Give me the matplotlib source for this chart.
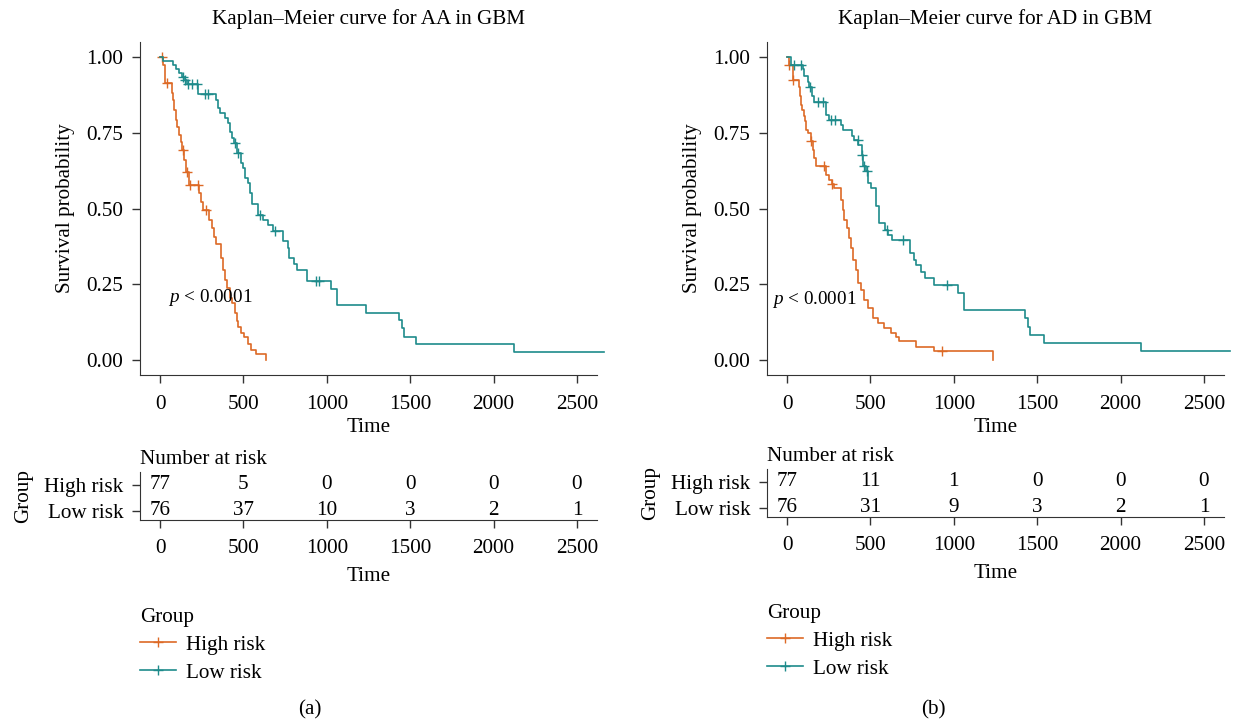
import numpy as np
import matplotlib
matplotlib.use("Agg")
import matplotlib.pyplot as plt
from matplotlib.lines import Line2D
from matplotlib.ticker import FormatStrFormatter

plt.rcParams['font.family'] = ['Liberation Serif', 'DejaVu Serif']
plt.rcParams['mathtext.fontset'] = 'custom'
plt.rcParams['mathtext.it'] = 'Liberation Serif:italic'
plt.rcParams['mathtext.rm'] = 'Liberation Serif'

HIGH_COL = '#DD6A26'
LOW_COL = '#1E8B8B'
FS = 15.2

groups = ['High risk', 'Low risk']
risk_times = [0, 500, 1000, 1500, 2000, 2500]

# ---- AA signature ----
aa_high_t = [0, 20, 30, 70, 76, 84, 94, 104, 114, 124, 132, 144, 154, 174, 234, 246,
             260, 294, 310, 324, 336, 364, 380, 390, 404, 420, 434, 450, 460, 470,
             486, 506, 530, 546, 574, 634]
aa_high_s = [1.0, 0.975, 0.914, 0.881, 0.859, 0.826, 0.793, 0.769, 0.743, 0.721, 0.694,
             0.661, 0.622, 0.578, 0.551, 0.520, 0.496, 0.463, 0.435, 0.407, 0.383,
             0.336, 0.297, 0.264, 0.237, 0.204, 0.187, 0.154, 0.127, 0.110, 0.088,
             0.074, 0.052, 0.033, 0.019, 0.0]
aa_high_cens = [10, 40, 140, 160, 180, 226, 276]

aa_low_t = [0, 20, 80, 94, 114, 130, 150, 160, 230, 336, 346, 360, 390, 410, 420, 430,
            444, 464, 486, 500, 510, 530, 540, 550, 590, 620, 650, 676, 740, 770, 776,
            804, 824, 880, 1024, 1064, 1234, 1430, 1450, 1460, 1536, 2124, 2660]
aa_low_s = [1.0, 0.988, 0.974, 0.960, 0.947, 0.936, 0.925, 0.911, 0.879, 0.859, 0.831,
            0.815, 0.798, 0.782, 0.754, 0.732, 0.716, 0.683, 0.650, 0.633, 0.600, 0.584,
            0.551, 0.515, 0.479, 0.463, 0.446, 0.427, 0.391, 0.369, 0.336, 0.317, 0.298,
            0.261, 0.234, 0.182, 0.155, 0.133, 0.105, 0.077, 0.052, 0.025, 0.025]
aa_low_cens = [140, 150, 170, 190, 220, 270, 290, 450, 470, 600, 690, 934, 954]

aa_risk_high = [77, 5, 0, 0, 0, 0]
aa_risk_low = [76, 37, 10, 3, 2, 1]

# ---- AD signature ----
ad_high_t = [0, 10, 34, 70, 78, 84, 90, 100, 108, 114, 124, 144, 154, 164, 174, 234,
             254, 270, 284, 324, 334, 344, 358, 370, 384, 394, 414, 424, 444, 464,
             484, 514, 548, 584, 624, 654, 674, 774, 884, 1234]
ad_high_s = [1.0, 0.975, 0.923, 0.903, 0.870, 0.843, 0.826, 0.804, 0.788, 0.760, 0.749,
             0.723, 0.694, 0.666, 0.639, 0.611, 0.595, 0.582, 0.567, 0.529, 0.496,
             0.463, 0.435, 0.402, 0.369, 0.330, 0.297, 0.253, 0.231, 0.198, 0.171,
             0.138, 0.121, 0.105, 0.088, 0.077, 0.061, 0.044, 0.030, 0.0]
ad_high_cens = [12, 36, 146, 220, 272, 930]

ad_low_t = [0, 24, 94, 100, 124, 134, 148, 164, 234, 254, 324, 334, 388, 404, 428, 448,
            458, 474, 484, 504, 534, 550, 590, 604, 630, 740, 764, 774, 804, 830, 884,
            1028, 1064, 1428, 1444, 1454, 1538, 2124, 2654]
ad_low_s = [1.0, 0.975, 0.960, 0.938, 0.919, 0.903, 0.870, 0.852, 0.808, 0.793, 0.776,
            0.760, 0.740, 0.727, 0.711, 0.678, 0.639, 0.623, 0.584, 0.568, 0.507, 0.452,
            0.430, 0.413, 0.396, 0.352, 0.330, 0.313, 0.291, 0.269, 0.247, 0.220, 0.165,
            0.137, 0.110, 0.083, 0.055, 0.028, 0.028]
ad_low_cens = [44, 84, 140, 184, 214, 264, 290, 424, 452, 462, 478, 600, 694, 958]

ad_risk_high = [77, 11, 1, 0, 0, 0]
ad_risk_low = [76, 31, 9, 3, 2, 1]

W, H = 1239, 725
fig = plt.figure(figsize=(W / 100, H / 100), dpi=100)


def px_rect(l, t, r, b):
    return [l / W, 1 - b / H, (r - l) / W, (b - t) / H]


def step_value(times, surv, x):
    i = np.searchsorted(times, x, side='right') - 1
    return np.asarray(surv)[i]


def km_panel(left, right, top_main, tab_top, tab_bottom, title, curves,
             risk_high, risk_low, pval_xy, legend_top, caption_x, caption):
    ax = fig.add_axes(px_rect(left, top_main, right, 375))
    for t, s, cens, col in curves:
        ax.step(t, s, where='post', color=col, lw=1.2, clip_on=False)
        ax.plot(cens, step_value(t, s, cens), ls='none', marker='+', ms=7.5,
                mew=1.0, color=col, clip_on=False)
    ax.set_xlim(-120, 2620)
    ax.set_ylim(-0.05, 1.05)
    ax.set_xticks(risk_times)
    ax.set_yticks([0, 0.25, 0.5, 0.75, 1.0])
    ax.yaxis.set_major_formatter(FormatStrFormatter('%.2f'))
    for side in ['top', 'right']:
        ax.spines[side].set_visible(False)
    for side in ['left', 'bottom']:
        ax.spines[side].set_color('#333333')
    ax.tick_params(labelsize=FS, length=6, width=1, color='#333333', pad=6)
    ax.tick_params(axis='x', pad=8.5)
    ax.set_xlabel('Time', fontsize=FS, labelpad=3)
    ax.set_ylabel('Survival probability', fontsize=FS, labelpad=8)
    ax.set_title(title, fontsize=FS, pad=13)
    ax.text(pval_xy[0], pval_xy[1], '$p$ < 0.0001', fontsize=FS - 1.4, va='center')

    tab = fig.add_axes(px_rect(left, tab_top, right, tab_bottom))
    tab.set_xlim(-120, 2620)
    tab.set_ylim(0.65, 2.5)
    tab.set_xticks(risk_times)
    tab.set_yticks([2, 1])
    tab.set_yticklabels(groups)
    for x, nh, nl in zip(risk_times, risk_high, risk_low):
        tab.text(x, 2, str(nh), ha='center', va='center', fontsize=FS)
        tab.text(x, 1, str(nl), ha='center', va='center', fontsize=FS)
    for side in ['top', 'right']:
        tab.spines[side].set_visible(False)
    for side in ['left', 'bottom']:
        tab.spines[side].set_color('#333333')
    tab.tick_params(labelsize=FS, length=6, width=1, color='#333333', pad=6)
    tab.tick_params(axis='x', pad=7.5)
    tab.set_title('Number at risk', loc='left', fontsize=FS, pad=6)
    tab.set_xlabel('Time', fontsize=FS, labelpad=7)
    tab.set_ylabel('Group', fontsize=FS, labelpad=8)

    handles = [Line2D([], [], color=HIGH_COL, lw=1.2, marker='+', ms=7.5, mew=1.0),
               Line2D([], [], color=LOW_COL, lw=1.2, marker='+', ms=7.5, mew=1.0)]
    fig.legend(handles, groups, title='Group', loc='upper left',
               bbox_to_anchor=(left / W, 1 - legend_top / H), frameon=False,
               alignment='left', fontsize=FS, title_fontsize=FS, borderpad=0,
               borderaxespad=0, handlelength=1.7, handletextpad=0.5,
               labelspacing=0.38)
    fig.text(caption_x / W, 1 - 710 / H, caption, ha='center', va='center', fontsize=FS)


km_panel(140, 597, 42, 472, 520, 'Kaplan\u2013Meier curve for AA in GBM',
         [(aa_high_t, aa_high_s, aa_high_cens, HIGH_COL),
          (aa_low_t, aa_low_s, aa_low_cens, LOW_COL)],
         aa_risk_high, aa_risk_low, (50, 0.205), 608, 310, '(a)')

km_panel(767, 1224, 42, 469, 517, 'Kaplan\u2013Meier curve for AD in GBM',
         [(ad_high_t, ad_high_s, ad_high_cens, HIGH_COL),
          (ad_low_t, ad_low_s, ad_low_cens, LOW_COL)],
         ad_risk_high, ad_risk_low, (-88, 0.2), 604, 933, '(b)')

fig.savefig('out.png', dpi=100)
